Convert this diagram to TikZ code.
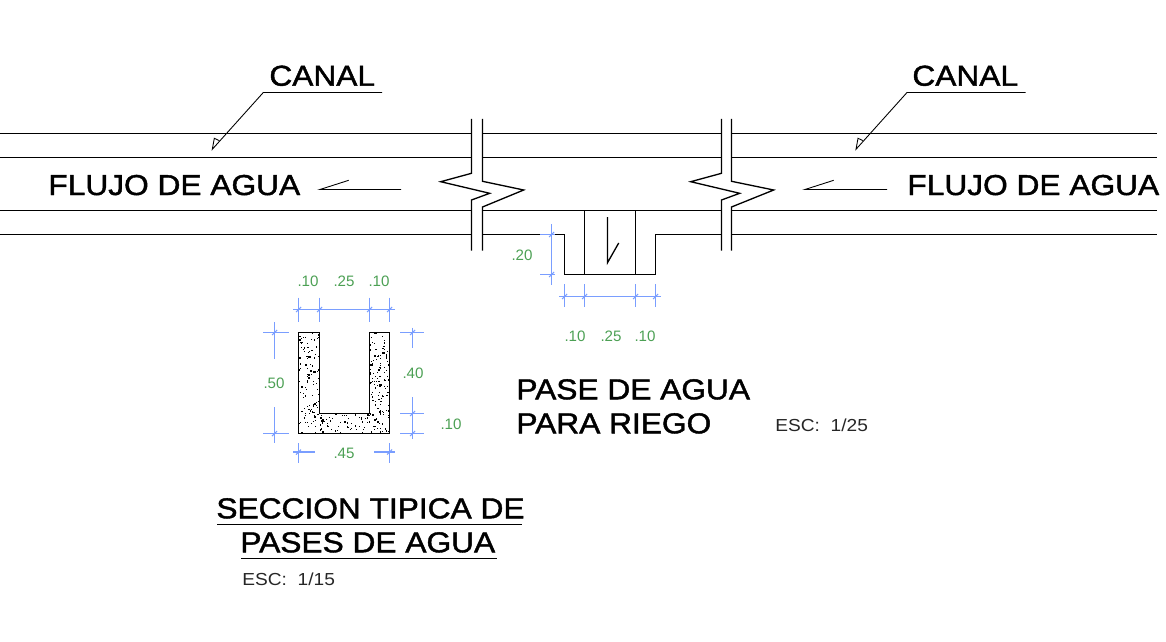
\documentclass[tikz,border=0pt]{standalone}
\usepackage{fontspec}
\setmainfont{Liberation Sans}
\newfontfamily\cadfont{Liberation Sans}[RawFeature={embolden=1.4}]
\usepackage{color}
\definecolor{dimblue}{RGB}{122,158,255}
\definecolor{dimgreen}{RGB}{76,160,84}
\usepackage{tikz}
\usetikzlibrary{calc,positioning}
\tikzstyle{bigtext}=[font=\cadfont\fontsize{16.4pt}{18pt}\selectfont,inner sep=0pt,anchor=base west,xscale=1.1,transform shape]
\tikzstyle{esctext}=[font=\fontsize{9.9pt}{11pt}\selectfont,inner sep=0pt,anchor=base west,xscale=1.1,transform shape,text=black!85]
\tikzstyle{dimtext}=[font=\fontsize{8.6pt}{9pt}\selectfont,inner sep=0pt,text=dimgreen]
\tikzstyle{wall}=[line width=0.75pt,line join=miter]
\tikzstyle{thin line}=[line width=0.5pt]
\tikzstyle{dimline}=[dimblue,line width=0.6pt]
% small slash on a dimension line
\newcommand{\dimtick}[1]{\draw[dimline] ($(#1)+(-2.5,2.5)$) -- ($(#1)+(2.5,-2.5)$);}
\begin{document}
\begin{tikzpicture}[x=0.02cm,y=-0.02cm]
\useasboundingbox (0,0) rectangle (1166,642);
% canal
\foreach \ypos in {133.5,157.5,210.5}{
  \draw[wall] (0,\ypos) -- (471.5,\ypos);
  \draw[wall] (482.5,\ypos) -- (721.5,\ypos);
  \draw[wall] (731.5,\ypos) -- (1157,\ypos);
}
\draw[wall] (0,234.5) -- (471.5,234.5);
\draw[wall] (482.5,234.5) -- (564.5,234.5) -- (564.5,274.5) -- (655.5,274.5) -- (655.5,234.5) -- (721.5,234.5);
\draw[wall] (731.5,234.5) -- (1157,234.5);
% breaks
\draw[wall] (471.5,119) -- (471.5,173.3) -- (440.7,181.7) -- (489.7,193.3) -- (471.5,200) -- (471.5,250.7);
\draw[wall] (482.5,119) -- (482.5,181.3) -- (523.7,190) -- (482.5,207) -- (482.5,250.7);
\draw[wall] (721.5,119) -- (721.5,173.3) -- (690.7,181.7) -- (739.7,193.3) -- (721.5,200) -- (721.5,250.7);
\draw[wall] (731.5,119) -- (731.5,181.3) -- (773.7,190) -- (731.5,207) -- (731.5,250.7);
% pase de agua
\draw[wall] (584.5,210.5) -- (584.5,274.5);
\draw[wall] (635.5,210.5) -- (635.5,274.5);
\draw[wall] (607.5,217) -- (607.5,262.7) -- (618.7,243);
% leaders
\node[bigtext] (canal1) at (269,85.7) {CANAL};
\node[bigtext] (canal2) at (912,85.7) {CANAL};
\coordinate (tip1) at (212.3,149.3);
\coordinate (tip2) at (856,149.3);
\draw[thin line] (382,92.5) -- (263.3,92.5) -- (tip1) -- (214.3,138.3) -- (219,140.5);
\draw[thin line] (1025.7,92.5) -- (907,92.5) -- (tip2) -- (858,138.3) -- (862.7,140.5);
% flow
\node[bigtext] (flujo1) at (48,195) {FLUJO DE AGUA};
\node[bigtext] (flujo2) at (907,195) {FLUJO DE AGUA};
\draw[thin line] (401,189.5) -- (320,189.5) -- (348.7,180.3);
\draw[thin line] (887,189.5) -- (805,189.5) -- (833.7,180.3);
% titles
\node[bigtext] (pase) at (516,399.3) {PASE DE AGUA};
\node[bigtext] (riego) at (516,433.3) {PARA RIEGO};
\node[esctext] (esc1) at (775,431.7) {ESC:\ \ 1/25};
\node[bigtext] (seccion) at (216,518.3) {SECCION TIPICA DE};
\node[bigtext] (pases) at (240,552.3) {PASES DE AGUA};
\node[esctext] (esc2) at (242,585) {ESC:\ \ 1/15};
\draw[thin line] (217,524.5) -- (522,524.5);
\draw[thin line] (241,558.5) -- (497,558.5);
% section, concrete fill
\begin{scope}
\clip (298.5,332.5) -- (319.5,332.5) -- (319.5,413.5) -- (369.5,413.5) -- (369.5,332.5) -- (389.5,332.5) -- (389.5,433.5) -- (298.5,433.5) -- cycle;
\pgfmathsetseed{4711}
\foreach \i in {1,...,480}{
  \pgfmathsetmacro{\px}{298+91*rnd}
  \pgfmathsetmacro{\py}{332+101*rnd}
  \fill (\px,\py) rectangle ++(1.2,1.2);
}
\foreach \i in {1,...,40}{
  \pgfmathsetmacro{\px}{298+91*rnd}
  \pgfmathsetmacro{\py}{332+101*rnd}
  \fill (\px,\py) rectangle ++(2.4,2);
}
\end{scope}
\draw[line width=0.95pt,line join=miter] (298.5,332.5) -- (319.5,332.5) -- (319.5,413.5) -- (369.5,413.5) -- (369.5,332.5) -- (389.5,332.5) -- (389.5,433.5) -- (298.5,433.5) -- cycle;
% dimensions of the section
\draw[dimline] (293.3,309.5) -- (394.7,309.5);
\foreach \xpos in {298.5,319.5,369.5,389.5}{
  \draw[dimline] (\xpos,297.7) -- (\xpos,322.3);
  \dimtick{\xpos,309.5}
}
\draw[dimline] (274.5,322.3) -- (274.5,358.7);
\draw[dimline] (274.5,407.3) -- (274.5,443.3);
\draw[dimline] (263,332.5) -- (288.7,332.5);
\draw[dimline] (263,433.5) -- (288.7,433.5);
\dimtick{274.5,332.5}
\dimtick{274.5,433.5}
\draw[dimline] (412.5,327.7) -- (412.5,347.7);
\draw[dimline] (412.5,397.3) -- (412.5,438.7);
\foreach \ypos in {332.5,413.5,433.5}{
  \draw[dimline] (400,\ypos) -- (423.7,\ypos);
  \dimtick{412.5,\ypos}
}
\draw[dimline] (293.3,452) -- (314.7,452);
\draw[dimline] (374.3,452) -- (394.7,452);
\draw[dimline] (298.5,443) -- (298.5,462.7);
\draw[dimline] (389.5,443) -- (389.5,462.7);
\dimtick{298.5,452}
\dimtick{389.5,452}
% dimensions of the pase
\draw[dimline] (551.5,224) -- (551.5,284.7);
\draw[dimline] (540,234.5) -- (555,234.5);
\draw[dimline] (540,274.5) -- (555,274.5);
\dimtick{551.5,234.5}
\dimtick{551.5,274.5}
\draw[dimline] (559,296.5) -- (661,296.5);
\foreach \xpos in {564.5,584.5,635.5,655.5}{
  \draw[dimline] (\xpos,284) -- (\xpos,307);
  \dimtick{\xpos,296.5}
}
% dimension texts
\node[dimtext] (d1) at (308,281) {.10};
\node[dimtext] (d2) at (344,281) {.25};
\node[dimtext] (d3) at (379,281) {.10};
\node[dimtext] (d4) at (274,383) {.50};
\node[dimtext] (d5) at (413,373) {.40};
\node[dimtext] (d6) at (451,424) {.10};
\node[dimtext] (d7) at (344,453) {.45};
\node[dimtext] (d8) at (522,255) {.20};
\node[dimtext] (d9) at (575,336) {.10};
\node[dimtext] (d10) at (611,336) {.25};
\node[dimtext] (d11) at (645,336) {.10};
\end{tikzpicture}
\end{document}
